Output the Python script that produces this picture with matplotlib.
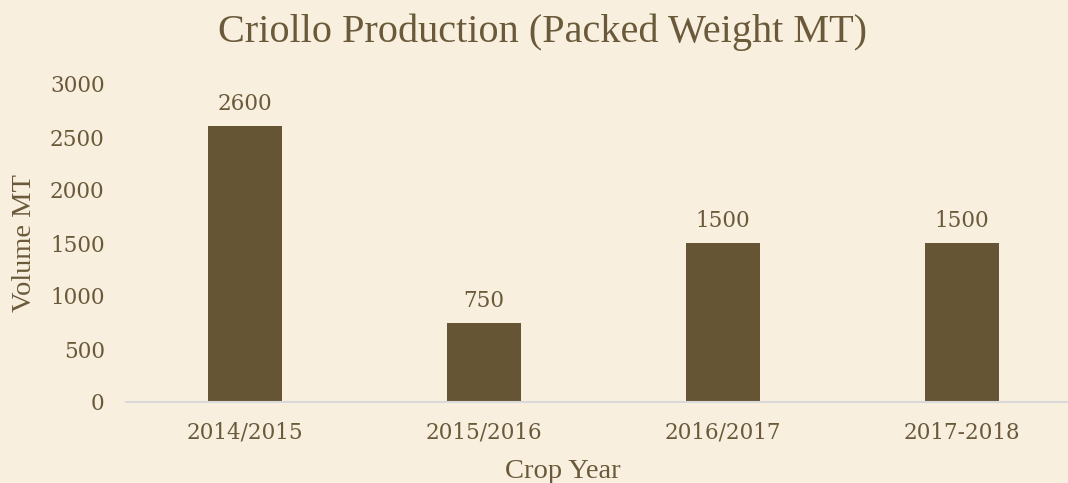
import matplotlib

matplotlib.use("Agg")
import matplotlib.pyplot as plt

anni = ["2014/2015", "2015/2016", "2016/2017", "2017-2018"]
volumi = [2600, 750, 1500, 1500]
tick_y = [0, 500, 1000, 1500, 2000, 2500, 3000]

sfondo = "#F8EFDF"
colore_barra = "#655535"
colore_testo = "#6B5A3A"
font_testo = ["Liberation Serif", "DejaVu Serif"]
font_numeri = ["DejaVu Serif"]

plt.rcParams["font.family"] = font_testo

W, H = 1068, 483
fig = plt.figure(figsize=(W / 100, H / 100), dpi=100, facecolor=sfondo)
ax = fig.add_axes([125.5 / W, 81 / H, 956 / W, 318 / H])
ax.set_facecolor(sfondo)

x = list(range(len(anni)))
ax.bar(x, volumi, width=0.313, color=colore_barra)
for xi, v in zip(x, volumi):
    ax.annotate(str(v), (xi, v), xytext=(0, 11.5), textcoords="offset points",
                ha="center", va="baseline", fontsize=15.5, color=colore_testo,
                family=font_numeri)

ax.set_xlim(-0.5, 3.5)
ax.set_ylim(0, 3000)
ax.set_yticks(tick_y)
ax.set_yticklabels([str(t) for t in tick_y], family=font_numeri, fontsize=15.5)
ax.set_xticks(x)
ax.set_xticklabels(anni, family=font_numeri, fontsize=15.5, va="baseline")
ax.tick_params(axis="both", length=0, labelcolor=colore_testo)
ax.tick_params(axis="x", pad=26.5)
ax.tick_params(axis="y", pad=15)

for lato in ["top", "right", "left"]:
    ax.spines[lato].set_visible(False)
ax.spines["bottom"].set_color("#D9D9D9")
ax.spines["bottom"].set_linewidth(1.5)

fig.text(542 / W, 1 - 42 / H, "Criollo Production (Packed Weight MT)",
         ha="center", va="baseline", fontsize=29, color=colore_testo)
fig.text(563 / W, 1 - 478 / H, "Crop Year", ha="center", va="baseline",
         fontsize=20.5, color=colore_testo)
fig.text(25 / W, 1 - 243 / H, "Volume MT", ha="center", va="center",
         rotation=90, fontsize=20.5, color=colore_testo)

plt.savefig("out.png", facecolor=sfondo)
plt.close()
